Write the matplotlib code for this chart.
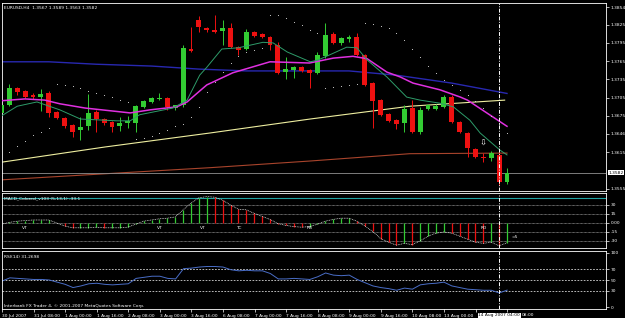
import matplotlib
matplotlib.use("Agg")
import matplotlib.pyplot as plt
import numpy as np

""" Values read off the EURUSD H4 screenshot (bar 0 = 30 Jul 2007 16:00) """
symbol_title = "EURUSD,H4  1.3567 1.3589 1.3563 1.3582"

opens = [1.3680, 1.3693, 1.3721, 1.3716, 1.3709, 1.3706, 1.3713, 1.3681, 1.3672, 1.3660,
         1.3652, 1.3658, 1.3681, 1.3670, 1.3665, 1.3658, 1.3663, 1.3663, 1.3690, 1.3698,
         1.3703, 1.3704, 1.3688, 1.3693, 1.3785, 1.3833, 1.3819, 1.3816, 1.3815, 1.3819,
         1.3788, 1.3785, 1.3813, 1.3810, 1.3805, 1.3792, 1.3747, 1.3750, 1.3755, 1.3750,
         1.3746, 1.3773, 1.3810, 1.3795, 1.3801, 1.3805, 1.3775, 1.3729, 1.3701, 1.3678,
         1.3668, 1.3663, 1.3688, 1.3649, 1.3686, 1.3686, 1.3690, 1.3706, 1.3665, 1.3647,
         1.3621, 1.3608, 1.3606, 1.3611, 1.3567]
highs = [1.3696, 1.3727, 1.3723, 1.3718, 1.3712, 1.3719, 1.3716, 1.3683, 1.3673, 1.3662,
         1.3673, 1.3711, 1.3685, 1.3672, 1.3667, 1.3673, 1.3675, 1.3693, 1.3701, 1.3706,
         1.3713, 1.3706, 1.3693, 1.3792, 1.3821, 1.3839, 1.3821, 1.3841, 1.3833, 1.3828,
         1.3790, 1.3818, 1.3815, 1.3811, 1.3806, 1.3796, 1.3772, 1.3757, 1.3757, 1.3752,
         1.3780, 1.3828, 1.3813, 1.3805, 1.3808, 1.3811, 1.3777, 1.3731, 1.3703, 1.3680,
         1.3670, 1.3693, 1.3701, 1.3690, 1.3695, 1.3695, 1.3709, 1.3709, 1.3667, 1.3649,
         1.3623, 1.3614, 1.3617, 1.3616, 1.3589]
lows = [1.3677, 1.3691, 1.3709, 1.3704, 1.3703, 1.3683, 1.3673, 1.3670, 1.3655, 1.3640,
        1.3635, 1.3652, 1.3649, 1.3660, 1.3649, 1.3650, 1.3655, 1.3649, 1.3688, 1.3696,
        1.3701, 1.3685, 1.3685, 1.3690, 1.3780, 1.3813, 1.3813, 1.3811, 1.3792, 1.3787,
        1.3775, 1.3783, 1.3804, 1.3803, 1.3783, 1.3744, 1.3736, 1.3737, 1.3747, 1.3721,
        1.3744, 1.3771, 1.3793, 1.3792, 1.3796, 1.3773, 1.3724, 1.3655, 1.3675, 1.3665,
        1.3654, 1.3649, 1.3647, 1.3645, 1.3684, 1.3684, 1.3688, 1.3663, 1.3647, 1.3608,
        1.3606, 1.3599, 1.3601, 1.3562, 1.3563]
closes = [1.3693, 1.3721, 1.3714, 1.3706, 1.3706, 1.3711, 1.3680, 1.3672, 1.3658, 1.3649,
          1.3657, 1.3680, 1.3670, 1.3663, 1.3657, 1.3663, 1.3667, 1.3691, 1.3699, 1.3704,
          1.3704, 1.3690, 1.3693, 1.3787, 1.3782, 1.3821, 1.3816, 1.3813, 1.3819, 1.3788,
          1.3783, 1.3813, 1.3806, 1.3805, 1.3792, 1.3746, 1.3752, 1.3755, 1.3749, 1.3746,
          1.3775, 1.3808, 1.3795, 1.3803, 1.3805, 1.3775, 1.3726, 1.3699, 1.3677, 1.3667,
          1.3662, 1.3686, 1.3649, 1.3685, 1.3693, 1.3691, 1.3706, 1.3665, 1.3649, 1.3622,
          1.3608, 1.3606, 1.3614, 1.3566, 1.3582]

# parabolic SAR dots, one per bar starting at bar 1
sar = [1.3616, 1.3626, 1.3634, 1.3644, 1.3649, 1.3655, 1.3727, 1.3726, 1.3724, 1.3721,
       1.3716, 1.3713, 1.3709, 1.3706, 1.3701, 1.3698, 1.3637, 1.3639, 1.3642, 1.3647,
       1.3652, 1.3658, 1.3662, 1.3673, 1.3690, 1.3714, 1.3731, 1.3747, 1.3762, 1.3773,
       1.3780, 1.3783, 1.3787, 1.3841, 1.3841, 1.3836, 1.3829, 1.3824, 1.3816, 1.3811,
       1.3721, 1.3723, 1.3724, 1.3726, 1.3727, 1.3828, 1.3826, 1.3823, 1.3819, 1.3811,
       1.3800, 1.3785, 1.3772, 1.3757, 1.3746, 1.3734, 1.3726, 1.3718, 1.3709, 1.3699,
       1.3688, 1.3675, 1.3662, 1.3647]

# moving averages, read as (bar position, price) vertices
ma_fast_bar = [0, 2, 4.5, 7.4, 10, 14.6, 16.3, 17.5, 21.7, 23.5, 25.1, 26, 27.9, 30, 33.1,
               34.4, 36.2, 39.1, 40.1, 42, 43.7, 45, 46.3, 48.8, 51.3, 53, 55.5, 57.2,
               59.3, 60.6, 63.1, 64]
ma_fast = [1.3675, 1.3691, 1.3698, 1.3685, 1.3670, 1.3667, 1.3667, 1.3677, 1.3688, 1.3701,
           1.3742, 1.3755, 1.3785, 1.3787, 1.3796, 1.3795, 1.3780, 1.3764, 1.3767, 1.3778,
           1.3788, 1.3787, 1.3767, 1.3739, 1.3706, 1.3701, 1.3696, 1.3690, 1.3668, 1.3647,
           1.3619, 1.3611]
ma_mid_bar = [0, 3, 5.5, 7.4, 10.6, 16.3, 18.8, 22.2, 23.5, 25.1, 26, 29.3, 34, 39, 42,
              44.5, 46.3, 48.8, 50.5, 52.1, 55.5, 58.1, 59, 64]
ma_mid = [1.3700, 1.3703, 1.3701, 1.3695, 1.3688, 1.3680, 1.3685, 1.3690, 1.3698, 1.3716,
          1.3726, 1.3746, 1.3764, 1.3762, 1.3770, 1.3773, 1.3769, 1.3747, 1.3739, 1.3729,
          1.3718, 1.3706, 1.3701, 1.3658]
ma_slow_bar = [0, 6, 12, 19, 25, 31, 38, 44, 50, 57, 64]
ma_slow = [1.3764, 1.3764, 1.3760, 1.3757, 1.3752, 1.3749, 1.3749, 1.3749, 1.3742, 1.3729,
           1.3712]
ma_long_bar = [0, 13.1, 26.4, 39.1, 51.7, 63.7]
ma_long = [1.3599, 1.3624, 1.3647, 1.3670, 1.3691, 1.3701]
ma_vlong_bar = [0, 13.1, 26.4, 39.1, 51.7, 64]
ma_vlong = [1.3570, 1.3580, 1.3590, 1.3601, 1.3613, 1.3614]

price_ticks = [1.3854, 1.3825, 1.3795, 1.3765, 1.3735, 1.3705, 1.3675, 1.3646, 1.3615, 1.3555]
bid = 1.3582

# MACD_Colored (5,13,1): histogram and signal are the same values
macd = [-2, 1, 3, 4, 5, 5, 5, 0, -5, -8, -8, -8, -7, -8, -8, -8, -7, -2, 3, 5,
        7, 8, 10, 22, 33, 42, 44, 43, 38, 30, 23, 22, 16, 11, 6, -1, -4, -6, -7, -6,
        -2, 3, 6, 8, 8, 3, -5, -14, -26, -32, -37, -34, -36, -30, -22, -17, -15, -17, -22, -27,
        -32, -34, -32, -38, -33]
macd_levels = [30, 15, 0, -15, -30]
macd_tick_labels = ["30", "15", "0.00", "-15", "-30"]
macd_marks = [(3, "VT"), (20, "VT"), (25.5, "VT"), (30, "TC"), (39, "RB"), (61, "RD")]

rsi = [48, 54, 53, 52, 51, 51, 50, 46, 42, 36, 39, 43, 44, 42, 41, 42, 43, 53, 55, 57,
       57, 53, 52, 71, 72, 74, 75, 75, 74, 69, 67, 68, 67, 67, 62, 52, 52, 53, 52, 51,
       56, 63, 59, 58, 59, 51, 45, 39, 36, 34, 31, 35, 33, 41, 43, 44, 46, 39, 36, 33,
       32, 31, 31, 26, 31.27]
rsi_levels = [70, 50, 30]

# time scale labels every 4 bars; the two under the time box are hidden there
time_labels = ["30 Jul 2007", "31 Jul 08:00", "1 Aug 00:00", "1 Aug 16:00", "2 Aug 08:00",
               "3 Aug 00:00", "3 Aug 16:00", "6 Aug 08:00", "7 Aug 00:00", "7 Aug 16:00",
               "8 Aug 08:00", "9 Aug 00:00", "9 Aug 16:00", "10 Aug 08:00", "13 Aug 00:00",
               "", ""]
tail_label = "08:00"
vline_bar = 63
vline_label = "14 Aug 2007 04:00"

""" styling """
BULL = "#33cc33"
BEAR = "#ee1111"
W, H = 625, 318
FS = 3.2

plt.rcParams["font.family"] = "DejaVu Sans"

fig = plt.figure(figsize=(W / 100, H / 100), dpi=100, facecolor="black")


def px_axes(x0, y0, x1, y1):
    # axes placed by pixel box, origin top-left like the screenshot
    a = fig.add_axes([x0 / W, 1 - y1 / H, (x1 - x0) / W, (y1 - y0) / H])
    a.set_facecolor("black")
    for s in a.spines.values():
        s.set_color("white")
        s.set_linewidth(0.6)
    a.set_xlim(0.076, 76.53)
    a.yaxis.tick_right()
    a.tick_params(axis="y", colors="white", labelsize=FS, length=2, width=0.5, pad=1.5)
    a.tick_params(axis="x", length=0, labelbottom=False)
    return a


ax = px_axes(2, 3, 606, 191)
ax_macd = px_axes(2, 193, 606, 248)
ax_rsi = px_axes(2, 251, 606, 309)

idx = np.arange(len(opens))
o = np.array(opens)
c = np.array(closes)

""" main window """
ax.set_ylim(1.35517, 1.38606)
ax.plot(ma_vlong_bar, ma_vlong, color="#a8442c", lw=0.8)
ax.plot(ma_long_bar, ma_long, color="#eeeea0", lw=0.8)
ax.plot(ma_slow_bar, ma_slow, color="#2828b0", lw=1.0)
ax.axhline(bid, color="#909090", lw=0.6)

cols = np.where(c >= o, BULL, BEAR)
ax.vlines(idx, lows, highs, colors=cols, lw=0.7, zorder=3)
body_lo = np.minimum(o, c)
body_h = np.maximum(np.abs(c - o), 0.00010)
ax.bar(idx, body_h, width=0.62, bottom=body_lo, color=cols, lw=0, zorder=3)

ax.plot(ma_mid_bar, ma_mid, color="#e030e0", lw=1.1, zorder=4)
ax.plot(ma_fast_bar, ma_fast, color="#2e9c6a", lw=0.7, zorder=4)
ax.scatter(idx[1:], sar, s=0.6, color="#d8d8d8", lw=0, zorder=5)

ax.set_yticks(price_ticks)
ax.set_yticklabels(["%.4f" % v for v in price_ticks])
ax.text(0.004, 0.985, symbol_title, transform=ax.transAxes, color="white",
        fontsize=FS, va="top", ha="left")
ax.text(61, 1.3631, "\u21e9", color="white", fontsize=6, ha="center", va="center", zorder=6)
ax.text(1.004, bid, "%.4f" % bid, transform=ax.get_yaxis_transform(), color="black",
        fontsize=FS, va="center", ha="left",
        bbox=dict(boxstyle="square,pad=0.15", fc="white", ec="white", lw=0))

""" MACD window """
ax_macd.set_ylim(-41.7, 50)
for lv in macd_levels:
    ax_macd.axhline(lv, color="white", lw=0.4, ls=(0, (1.2, 1.2)))
ax_macd.axhline(42, color="#20a0a0", lw=0.8)
m = np.array(macd)
mcol = np.where(np.diff(m, prepend=m[0]) >= 0, BULL, BEAR)
ax_macd.vlines(idx, 0, m, colors=mcol, lw=0.9)
ax_macd.plot(idx, m, color="white", lw=0.5, ls=(0, (1.2, 1.2)))
for b, t in macd_marks:
    ax_macd.text(b, -8, t, color="white", fontsize=FS, ha="center", va="center")
ax_macd.text(64.6, -23, "=5", color="white", fontsize=FS, ha="left", va="center")
ax_macd.set_yticks(macd_levels)
ax_macd.set_yticklabels(macd_tick_labels)
ax_macd.text(0.004, 0.93, "MACD_Colored_v103 (5,13,1) -33.1", transform=ax_macd.transAxes,
             color="white", fontsize=FS, va="top", ha="left")

""" RSI window """
ax_rsi.set_ylim(-3.7, 103.7)
for lv in rsi_levels:
    ax_rsi.axhline(lv, color="white", lw=0.5, ls=(0, (2.5, 2)))
ax_rsi.plot(idx, rsi, color="#4a6ec8", lw=0.7)
ax_rsi.set_yticks([100, 70, 50, 30, 0])
ax_rsi.set_yticklabels(["100", "70", "50", "30", "0"])
ax_rsi.text(0.004, 0.93, "RSI(14) 31.2698", transform=ax_rsi.transAxes,
            color="white", fontsize=FS, va="top", ha="left")
ax_rsi.text(0.004, 0.02, "Interbank FX Trader 4, \u00a9 2001-2007 MetaQuotes Software Corp.",
            transform=ax_rsi.transAxes, color="white", fontsize=FS, va="bottom", ha="left")
ax_rsi.set_xticks(np.arange(0, 4 * len(time_labels), 4))
ax_rsi.set_xticklabels(time_labels)
ax_rsi.tick_params(axis="x", colors="white", labelsize=FS, length=2, width=0.5,
                   pad=1.5, labelbottom=True)
for lab in ax_rsi.get_xticklabels():
    lab.set_horizontalalignment("left")

# vertical line object across every window
for a in (ax, ax_macd, ax_rsi):
    a.axvline(vline_bar, color="white", lw=0.7, ls=(0, (4, 1.5, 1, 1.5)), zorder=7)
box = ax_rsi.text(vline_bar, -0.11, vline_label, transform=ax_rsi.get_xaxis_transform(),
                  color="black", fontsize=FS, ha="center", va="center", zorder=8,
                  bbox=dict(boxstyle="square,pad=0.15", fc="white", ec="white", lw=0))
ax_rsi.text(vline_bar + 2.9, -0.11, tail_label, transform=ax_rsi.get_xaxis_transform(),
            color="white", fontsize=FS, ha="left", va="center")

fig.savefig("out.png", dpi=100, facecolor="black")
